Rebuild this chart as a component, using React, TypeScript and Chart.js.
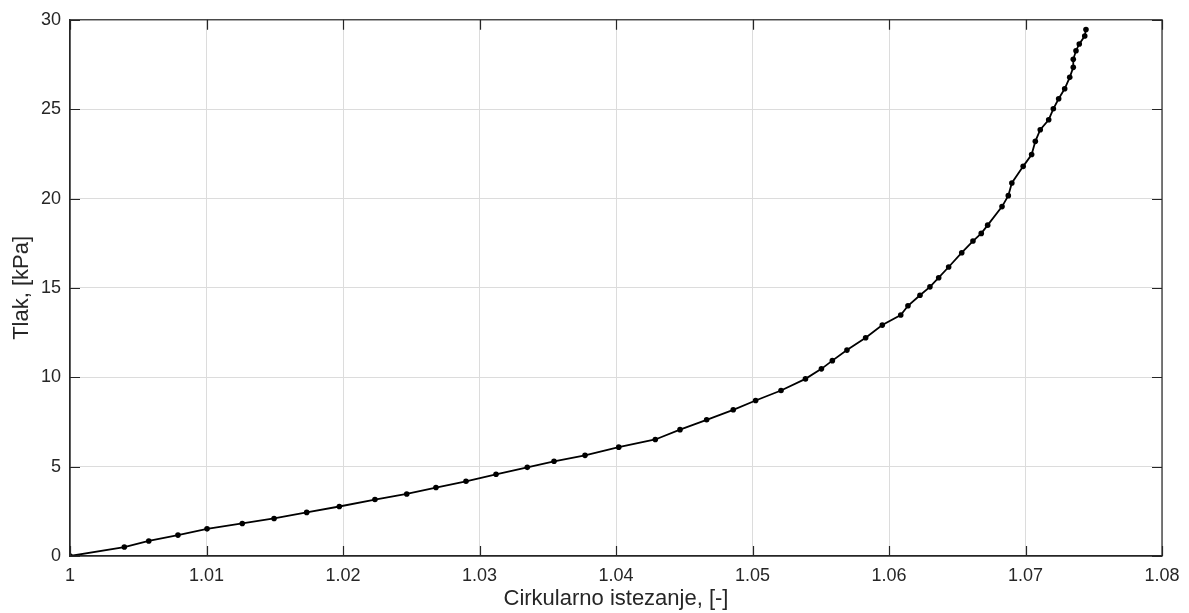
import React, { useEffect, useRef } from "react";
import { Chart, registerables } from "chart.js";

Chart.register(...registerables);

const strain: number[] = [
  1.0, 1.00398, 1.00577, 1.00791, 1.01004, 1.01262, 1.01495, 1.01734, 1.01973, 1.02234,
  1.02467, 1.02681, 1.02901, 1.03121, 1.0335, 1.03546, 1.03773, 1.0402, 1.04288, 1.04469,
  1.04664, 1.04859, 1.05023, 1.05209, 1.05388, 1.05505, 1.05585, 1.05692, 1.05829, 1.05951,
  1.06086, 1.06139, 1.06227, 1.063, 1.06364, 1.06437, 1.06533, 1.06615, 1.06676, 1.06723,
  1.06828, 1.06874, 1.069, 1.06983, 1.07045, 1.07072, 1.07108, 1.0717, 1.07204, 1.07243,
  1.07287, 1.07324, 1.0735, 1.0735, 1.0737, 1.07394, 1.07434, 1.07443,
];

const pressure: number[] = [
  0, 0.5, 0.84, 1.17, 1.52, 1.82, 2.1, 2.44, 2.77, 3.16,
  3.47, 3.83, 4.18, 4.57, 4.96, 5.3, 5.63, 6.09, 6.52, 7.07,
  7.62, 8.18, 8.7, 9.26, 9.91, 10.47, 10.93, 11.52, 12.21, 12.92,
  13.48, 14.0, 14.59, 15.06, 15.57, 16.17, 16.97, 17.62, 18.05, 18.51,
  19.55, 20.16, 20.87, 21.8, 22.46, 23.2, 23.85, 24.41, 25.02, 25.58,
  26.14, 26.78, 27.34, 27.79, 28.27, 28.65, 29.09, 29.46,
];

const xTicks: number[] = [1, 1.01, 1.02, 1.03, 1.04, 1.05, 1.06, 1.07, 1.08];
const yTicks: number[] = [0, 5, 10, 15, 20, 25, 30];

const xTitle = "Cirkularno istezanje, [-]";
const yTitle = "Tlak, [kPa]";

const FONT = "'Liberation Sans', Arial, Helvetica, sans-serif";
const AXIS_COLOR = "#262626";

const boxTicksPlugin = {
  id: "boxTicks",
  afterDraw(chart: any) {
    const { ctx, chartArea } = chart;
    const { left, right, top, bottom } = chartArea;
    const xs = chart.scales.x;
    const ys = chart.scales.y;
    const len = 10;
    ctx.save();
    ctx.strokeStyle = AXIS_COLOR;
    ctx.lineWidth = 1.2;
    ctx.beginPath();
    for (const t of xTicks) {
      const px = Math.round(xs.getPixelForValue(t)) + 0.5;
      ctx.moveTo(px, bottom);
      ctx.lineTo(px, bottom - len);
      ctx.moveTo(px, top);
      ctx.lineTo(px, top + len);
    }
    for (const t of yTicks) {
      const py = Math.round(ys.getPixelForValue(t)) + 0.5;
      ctx.moveTo(left, py);
      ctx.lineTo(left + len, py);
      ctx.moveTo(right, py);
      ctx.lineTo(right - len, py);
    }
    ctx.stroke();
    ctx.strokeRect(left, top, right - left, bottom - top);
    ctx.restore();
  },
};

export default function App() {
  const canvasRef = useRef<HTMLCanvasElement | null>(null);

  useEffect(() => {
    if (!canvasRef.current) return;
    const points = strain.map((x, i) => ({ x, y: pressure[i] }));
    const chart = new Chart(canvasRef.current, {
      type: "scatter",
      data: {
        datasets: [
          {
            data: points,
            showLine: true,
            borderColor: "#000000",
            backgroundColor: "#000000",
            borderWidth: 1.8,
            pointRadius: 2.8,
            pointHoverRadius: 2.8,
            pointBorderWidth: 0,
            tension: 0,
          },
        ],
      },
      plugins: [boxTicksPlugin],
      options: {
        animation: false,
        responsive: true,
        maintainAspectRatio: false,
        layout: { padding: { left: 0, top: 18, right: 27, bottom: 0 } },
        plugins: {
          legend: { display: false },
          tooltip: { enabled: false },
        },
        scales: {
          x: {
            type: "linear",
            min: 1,
            max: 1.08,
            afterBuildTicks: (scale: any) => {
              scale.ticks = xTicks.map((v) => ({ value: v }));
            },
            afterFit: (scale: any) => {
              scale.height = 57;
            },
            ticks: {
              color: "#262626",
              padding: 9,
              font: { family: FONT, size: 18 },
              maxRotation: 0,
              callback: (v: any) => parseFloat(Number(v).toFixed(2)).toString(),
            },
            grid: { color: "#dcdcdc", lineWidth: 1, drawTicks: false },
            border: { display: true, color: AXIS_COLOR, width: 1.2 },
            title: {
              display: true,
              text: xTitle,
              color: "#262626",
              font: { family: FONT, size: 22 },
              padding: { top: 0, bottom: 1 },
            },
          },
          y: {
            type: "linear",
            min: 0,
            max: 30,
            afterBuildTicks: (scale: any) => {
              scale.ticks = yTicks.map((v) => ({ value: v }));
            },
            afterFit: (scale: any) => {
              scale.width = 70;
            },
            ticks: {
              color: "#262626",
              padding: 9,
              font: { family: FONT, size: 18 },
            },
            grid: { color: "#dcdcdc", lineWidth: 1, drawTicks: false },
            border: { display: true, color: AXIS_COLOR, width: 1.2 },
            title: {
              display: true,
              text: yTitle,
              color: "#262626",
              font: { family: FONT, size: 22 },
              padding: { top: 9, bottom: 0 },
            },
          },
        },
      },
    });
    return () => chart.destroy();
  }, []);

  return (
    <div style={{ position: "fixed", left: 0, top: 0, width: 1189, height: 613, background: "#fff" }}>
      <canvas ref={canvasRef} />
    </div>
  );
}
